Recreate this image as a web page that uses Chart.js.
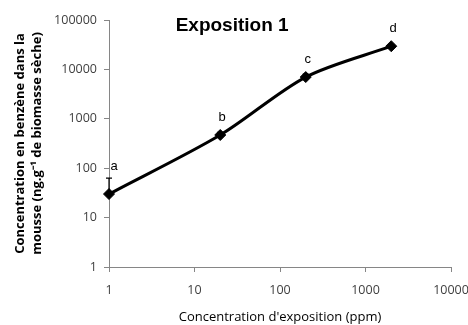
<!DOCTYPE html>
<html>
<head>
<meta charset="utf-8">
<script src="https://cdn.jsdelivr.net/npm/chart.js@4/dist/chart.umd.min.js"></script>
<style>
html,body{margin:0;padding:0;background:#fff;}
#wrap{width:468px;height:325px;}
</style>
</head>
<body>
<div id="wrap"><canvas id="c" width="468" height="325"></canvas></div>
<script>
// Data
const exposureConc = [1, 20, 200, 2000];          // ppm (x)
const benzeneConc  = [30, 470, 7000, 29500];       // ng/g (y)
const errorUp      = [33, 60, 1000, 2500];         // upper error bar
const pointLabels  = ['a', 'b', 'c', 'd'];
const xTicks = [1, 10, 100, 1000, 10000];
const yTicks = [1, 10, 100, 1000, 10000, 100000];
const chartTitle = 'Exposition 1';
const xTitle = "Concentration d'exposition (ppm)";
const yTitle = ['Concentration en benzène dans la', 'mousse (ng.g⁻¹ de biomasse sèche)'];

const points = exposureConc.map((x, i) => ({x: x, y: benzeneConc[i]}));

const extras = {
  id: 'extras',
  afterDatasetsDraw(chart) {
    const ctx = chart.ctx;
    const xs = chart.scales.x, ys = chart.scales.y;
    ctx.save();
    // error bars
    ctx.strokeStyle = '#000';
    ctx.lineWidth = 1.2;
    exposureConc.forEach((xv, i) => {
      const px = xs.getPixelForValue(xv);
      const py = ys.getPixelForValue(benzeneConc[i]);
      const pt = ys.getPixelForValue(benzeneConc[i] + errorUp[i]);
      ctx.beginPath();
      ctx.moveTo(px, py); ctx.lineTo(px, pt);
      ctx.moveTo(px - 3, pt); ctx.lineTo(px + 3, pt);
      ctx.stroke();
    });
    // point letters
    ctx.fillStyle = '#000';
    ctx.font = '13px "Liberation Sans", Arial, sans-serif';
    ctx.textAlign = 'center';
    ctx.textBaseline = 'middle';
    exposureConc.forEach((xv, i) => {
      const px = xs.getPixelForValue(xv);
      const top = ys.getPixelForValue(benzeneConc[i] + errorUp[i]);
      const py = ys.getPixelForValue(benzeneConc[i]);
      const ly = Math.min(top - 12, py - 18);
      const lx = i === 0 ? px + 5 : px + 2;
      ctx.fillText(pointLabels[i], lx, ly);
    });
    // chart title
    const ca = chart.chartArea;
    ctx.font = 'bold 19px "Liberation Sans", Arial, sans-serif';
    ctx.fillText(chartTitle, ca.left + ca.width * 0.36, ca.top + 6);
    ctx.restore();
  }
};

new Chart(document.getElementById('c'), {
  type: 'line',
  data: {
    datasets: [{
      data: points,
      borderColor: '#000',
      backgroundColor: '#000',
      borderWidth: 3,
      pointStyle: 'rectRot',
      pointRadius: 5.5,
      pointBorderWidth: 1,
      pointBackgroundColor: '#000',
      tension: 0.3,
      clip: false,
      fill: false
    }]
  },
  options: {
    responsive: false,
    animation: false,
    devicePixelRatio: 1,
    layout: {padding: {top: 20, right: 0, left: 0, bottom: 0}},
    plugins: {legend: {display: false}, tooltip: {enabled: false}},
    scales: {
      x: {
        type: 'logarithmic',
        min: 1, max: 10000,
        afterBuildTicks: s => { s.ticks = xTicks.map(v => ({value: v})); },
        afterFit: s => { s.height = 58; s.paddingRight = 17; s.paddingLeft = 0; },
        grid: {drawOnChartArea: false, color: '#868686', tickLength: 5},
        border: {color: '#868686', width: 1},
        ticks: {
          callback: v => String(v),
          color: '#404040',
          font: {family: '"Open Sans", sans-serif', size: 12.5},
          padding: 11,
          maxRotation: 0, autoSkip: false
        },
        title: {
          display: true, text: xTitle, color: '#000',
          font: {family: '"Open Sans", sans-serif', size: 13},
          padding: {top: 0, bottom: 0}
        }
      },
      y: {
        type: 'logarithmic',
        min: 1, max: 100000,
        afterBuildTicks: s => { s.ticks = yTicks.map(v => ({value: v})); },
        afterFit: s => { s.width = 109; },
        grid: {drawOnChartArea: false, color: '#868686', tickLength: 5},
        border: {color: '#868686', width: 1},
        ticks: {
          callback: v => String(v),
          color: '#404040',
          font: {family: '"Open Sans", sans-serif', size: 12.5},
          padding: 7,
          autoSkip: false
        },
        title: {
          display: true, text: yTitle, color: '#000',
          font: {family: '"Open Sans", sans-serif', size: 13, weight: 'bold', lineHeight: 1.3},
          padding: {top: 12, bottom: 0}
        }
      }
    }
  },
  plugins: [extras]
});
</script>
</body>
</html>
